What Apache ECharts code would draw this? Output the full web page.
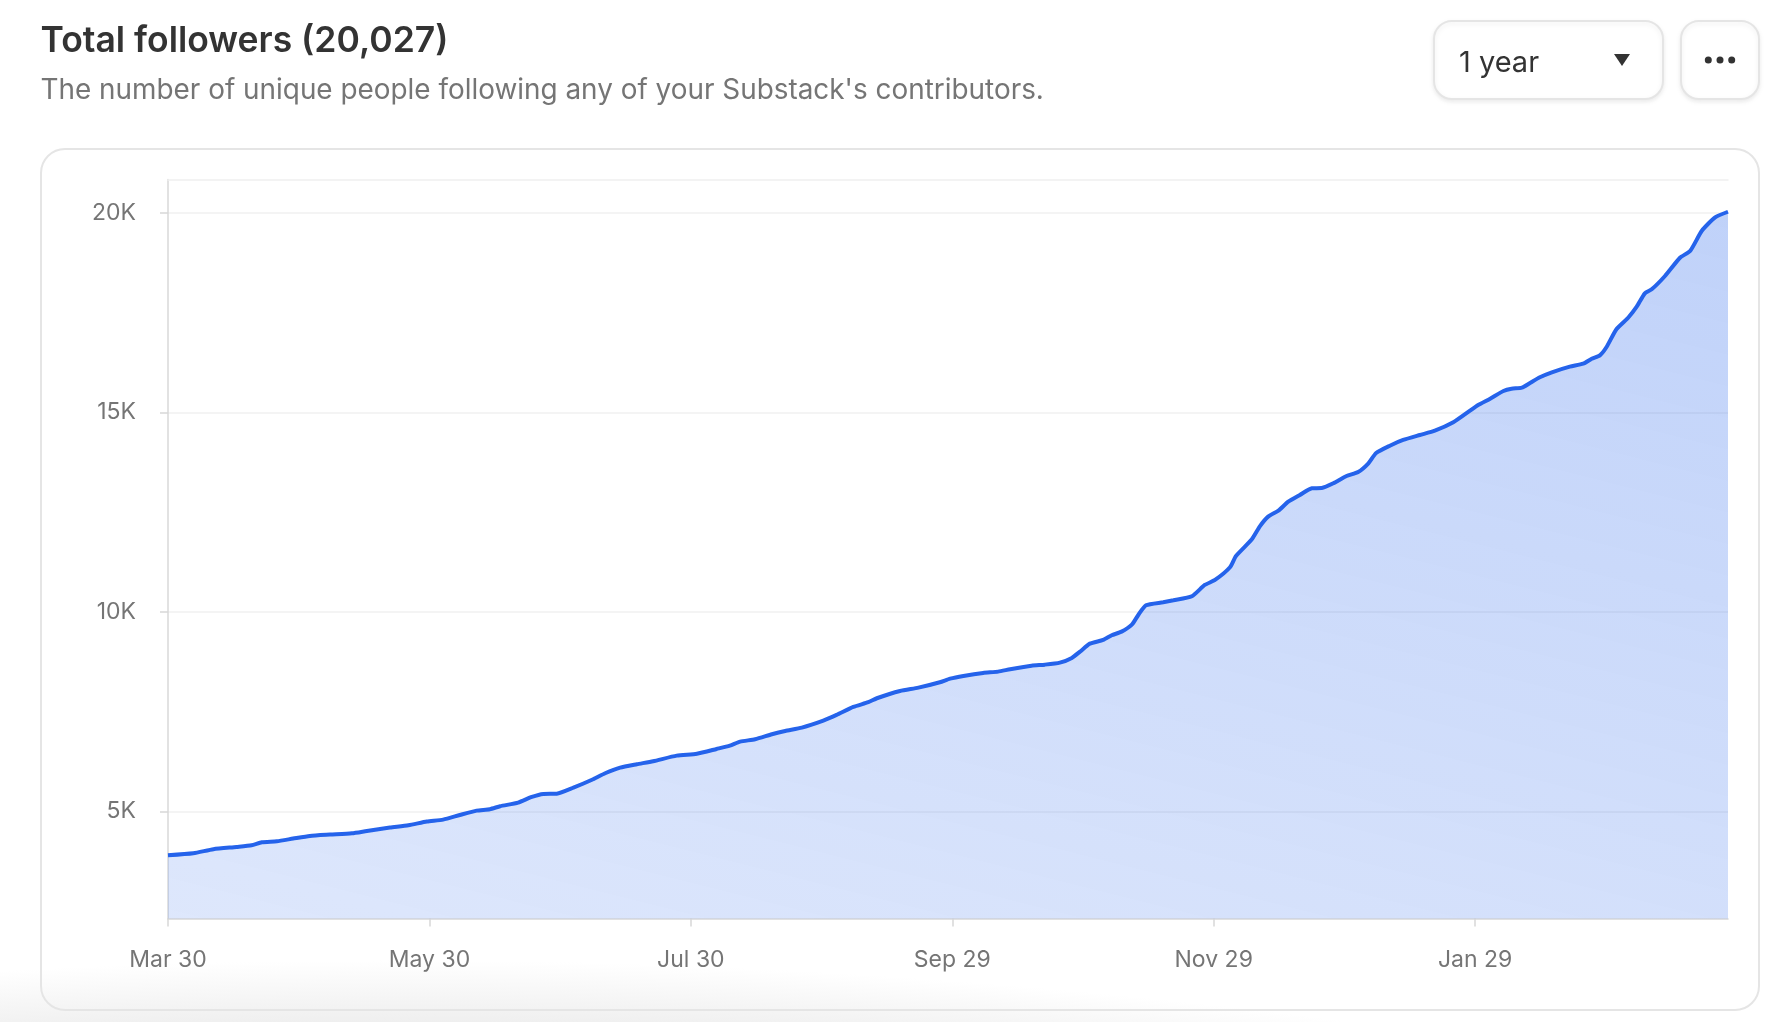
<!DOCTYPE html>
<html style="height: 100%">
<head>
<meta charset="utf-8" />
<title>Total followers</title>
<style>
  html, body { height: 100%; margin: 0; }
  /* faint grey fade along the bottom of the screenshot */
  body { background: radial-gradient(circle 7461px at 400px 8351px, #efefef 98.23%, #fff 99.06%); }
  #container { width: 1770px; height: 1022px; }
</style>
</head>
<body>
<div id="container"></div>
<script src="https://cdn.jsdelivr.net/npm/echarts@6/dist/echarts.min.js"></script>
<script>
// days since Mar 30 at its visible bends
var dayOffset = [0, 5.9, 10.6, 16, 19.5, 21.9, 25.4, 29.2, 33.1, 37.8, 42.9, 46.4, 51.8, 56.1, 60.4, 64.2, 68.1,
  72, 75.1, 77.5, 81.7, 84.9, 87.6, 90.7, 94.6, 99.2, 102, 105.5, 109.4, 113.2, 118.7, 123.4, 128, 131.1, 133.5,
  137, 140.9, 144, 147.9, 152.9, 156, 159.9, 163.4, 165.4, 170.8, 175.1, 180.1, 182.5, 185.6, 190.2, 193.7, 196.5, 201.5,
  204.6, 208.1, 210.9, 212.8, 215.1, 218.2, 220.2, 222.5, 224.9, 226.4, 228.2, 232.2, 234.6, 238.9, 241.9, 244.3, 247.8, 249.2, 252.9, 254.8,
  256.7, 259.1, 261.4, 264.1, 266.9, 269.2, 271.9, 275, 277.7, 280.1, 281.9, 285.1, 288.2, 292.1, 295.6, 299.9, 303.8, 305.7, 308.5,
  311.6, 313.5, 315.9, 317.8, 320.1, 322.9, 327.1, 330.2, 332.2, 334.1, 335.7, 338, 340.7, 342.7, 344.6, 346.2, 349.3, 352.8, 355.2, 357.9, 361, 364];
var followers = [3905, 3955, 4056, 4113, 4155, 4230, 4255, 4322, 4388, 4422, 4455, 4513, 4598, 4656, 4748, 4798, 4914,
  5023, 5058, 5133, 5223, 5366, 5441, 5448, 5599, 5809, 5959, 6100, 6185, 6260, 6400, 6450, 6568, 6651, 6751,
  6811, 6936, 7019, 7102, 7277, 7420, 7620, 7738, 7838, 8021, 8104, 8239, 8329, 8397, 8472, 8505, 8565, 8655,
  8680, 8730, 8848, 9006, 9206, 9299, 9416, 9507, 9682, 9925, 10168, 10243, 10293, 10393, 10676, 10802, 11120, 11403, 11821, 12150,
  12388, 12538, 12763, 12931, 13099, 13106, 13224, 13407, 13507, 13725, 13983, 14166, 14309, 14434, 14542, 14752, 15042, 15185, 15343,
  15536, 15593, 15619, 15736, 15879, 16004, 16145, 16220, 16345, 16430, 16646, 17089, 17372, 17648, 17983, 18083, 18417, 18875, 19050, 19551, 19887, 20027];

var xTickDays = [0, 61, 122, 183, 244, 305];
var xTickLabels = ['Mar 30', 'May 30', 'Jul 30', 'Sep 29', 'Nov 29', 'Jan 29'];
var yTicks = [5000, 10000, 15000, 20000];
var yTickLabels = ['5K', '10K', '15K', '20K'];

var FONT = 'Inter';
var myChart = echarts.init(document.getElementById('container'));

var option = {
  animation: false,
  textStyle: { fontFamily: FONT },
  title: {
    text: 'Total followers (20,027)',
    subtext: "The number of unique people following any of your Substack's contributors.",
    left: 40.5, top: 23, padding: 0, itemGap: 18,
    textStyle: { fontFamily: FONT, fontSize: 35.5, fontWeight: 600, color: '#333333' },
    subtextStyle: { fontFamily: FONT, fontSize: 27.9, fontWeight: 400, color: '#757575' }
  },
  grid: { left: 168, right: 42, top: 179.5, bottom: 103.5 },
  xAxis: [{
    type: 'value', min: 0, max: 364,
    splitLine: { show: false },
    axisLine: { lineStyle: { color: '#d8d8d8', width: 1.5 } },
    axisTick: { length: 8, customValues: xTickDays, lineStyle: { color: '#d8d8d8', width: 1.5 } },
    axisLabel: {
      customValues: xTickDays, margin: 30.5, fontSize: 23, color: '#757575',
      formatter: function (v) { return xTickLabels[xTickDays.indexOf(v)]; }
    }
  }, {
    // pale rule along the top of the plot
    type: 'value', position: 'top', min: 0, max: 364,
    splitLine: { show: false },
    axisLine: { lineStyle: { color: '#f0f0f0', width: 1.5 } },
    axisTick: { show: false }, axisLabel: { show: false }
  }],
  yAxis: {
    type: 'value', min: 2320, max: 20835,
    axisLine: { show: true, lineStyle: { color: '#d8d8d8', width: 1.5 } },
    axisTick: { show: true, length: 8, customValues: yTicks, lineStyle: { color: '#d8d8d8', width: 1.5 } },
    splitLine: { lineStyle: { color: '#f0f0f0', width: 1.5 } },
    axisLabel: {
      customValues: yTicks, margin: 32, fontSize: 23, color: '#757575', padding: [4, 0, 0, 0],
      formatter: function (v) { return yTickLabels[yTicks.indexOf(v)]; }
    }
  },
  series: [{
    type: 'line',
    xAxisIndex: 0,
    data: dayOffset.map(function (d, i) { return [d, followers[i]]; }),
    showSymbol: false,
    smooth: 0.2,
    lineStyle: { color: '#2563eb', width: 4 },
    areaStyle: {
      color: new echarts.graphic.LinearGradient(0, 1, 0.164, -0.44, [
        { offset: 0, color: 'rgba(37,99,235,0.22)' },
        { offset: 1, color: 'rgba(37,99,235,0.41)' }
      ])
    }
  }],
  graphic: [
    // card around the plot
    { type: 'rect', z: -1, shape: { x: 41, y: 149, width: 1718, height: 861, r: 24 },
      style: { fill: 'transparent', stroke: '#e5e5e5', lineWidth: 2 } },
    // range dropdown
    { type: 'rect', shape: { x: 1434, y: 21, width: 229, height: 78, r: 18 },
      style: { fill: '#ffffff', stroke: '#e5e5e5', lineWidth: 2, shadowBlur: 5, shadowOffsetY: 2, shadowColor: 'rgba(0,0,0,0.08)' } },
    { type: 'text', x: 1459, y: 63,
      style: { text: '1 year', fontFamily: FONT, fontSize: 29, fill: '#333333', verticalAlign: 'middle' } },
    { type: 'polygon', shape: { points: [[1614, 54], [1630, 54], [1622, 66]] }, style: { fill: '#333333' } },
    // overflow menu
    { type: 'rect', shape: { x: 1681, y: 21, width: 78, height: 78, r: 18 },
      style: { fill: '#ffffff', stroke: '#e5e5e5', lineWidth: 2, shadowBlur: 5, shadowOffsetY: 2, shadowColor: 'rgba(0,0,0,0.08)' } },
    { type: 'circle', shape: { cx: 1708.3, cy: 60, r: 3.5 }, style: { fill: '#333333' } },
    { type: 'circle', shape: { cx: 1720, cy: 60, r: 3.5 }, style: { fill: '#333333' } },
    { type: 'circle', shape: { cx: 1731.7, cy: 60, r: 3.5 }, style: { fill: '#333333' } }
  ]
};
myChart.setOption(option);
</script>
</body>
</html>
